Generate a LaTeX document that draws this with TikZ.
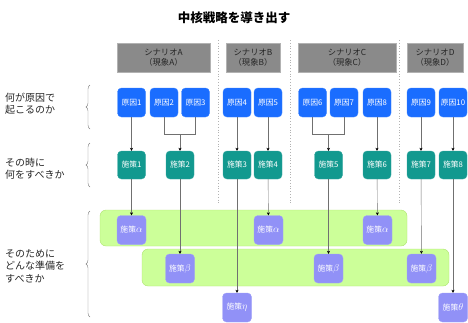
\documentclass[tikz,border=0pt]{standalone}
\usepackage{fontspec}
\setmainfont{Noto Sans CJK JP}
\usepackage{xcolor}
\usetikzlibrary{arrows.meta,decorations.pathreplacing}
\definecolor{causeblue}{HTML}{1A6DFF}
\definecolor{actteal}{HTML}{12998F}
\definecolor{prepviolet}{HTML}{9191F7}
\definecolor{bandgreen}{HTML}{CCFF99}
\definecolor{bandedge}{HTML}{ADE36E}
\definecolor{headgray}{HTML}{8A8A8A}
\definecolor{linegray}{HTML}{707070}
\newcommand{\grk}[1]{{\fontsize{10}{10}\selectfont$#1$}}

\begin{document}
\begin{tikzpicture}[x=1pt, y=-1pt, every node/.style={font=\fontsize{7.8}{9}\selectfont},
    cause/.style={draw=causeblue!85!white, fill=causeblue, text=white, minimum width=28pt, minimum height=29pt, rounded corners=4pt, inner sep=0pt},
    act/.style={draw=actteal!85!white, fill=actteal, text=white, minimum width=28pt, minimum height=28pt, rounded corners=4pt, inner sep=0pt},
    prep/.style={draw=prepviolet!85!white, fill=prepviolet, text=white, minimum width=29pt, minimum height=29pt, rounded corners=4pt, inner sep=0pt},
    band/.style={draw=bandedge, fill=bandgreen, rounded corners=6pt, inner sep=0pt},
    scen/.style={draw=gray!60, fill=headgray, text=black!85, minimum height=29pt, align=center, inner sep=0pt, font=\fontsize{8.3}{10.5}\selectfont},
    rowlabel/.style={anchor=west, align=left, text=black!85, inner sep=0pt, font=\fontsize{10}{12.5}\selectfont},
    link/.style={draw=linegray, -{Stealth[black, length=3pt, width=3pt]}},
    divider/.style={draw=gray!60, dotted, line width=0.8pt},
    rowbrace/.style={draw=gray, decorate, decoration={brace, amplitude=4pt}}]
    \useasboundingbox (0,0) rectangle (468,322);

    % title and scenarios
    \node[font=\fontsize{12.5}{14}\selectfont\bfseries] (title) at (234,18) {中核戦略を導き出す};
    \node[scen, minimum width=93pt] (sA) at (163.5,57.5) {シナリオA\\（現象A）};
    \node[scen, minimum width=54pt] (sB) at (253,57.5) {シナリオB\\（現象B）};
    \node[scen, minimum width=98pt] (sC) at (347,57.5) {シナリオC\\（現象C）};
    \node[scen, minimum width=56pt] (sD) at (435,57.5) {シナリオD\\（現象D）};
    \draw[divider] (218,40) -- (218,205);
    \draw[divider] (290,40) -- (290,205);
    \draw[divider] (399,40) -- (399,205);

    % row labels
    \node[rowlabel] (q1) at (5,103.5) {何が原因で\\起こるのか};
    \node[rowlabel] (q2) at (5,168.5) {その時に\\何をすべきか};
    \node[rowlabel] (q3) at (5,266) {そのために\\どんな準備を\\すべきか};
    \draw[rowbrace] (90,129) -- (90,85);
    \draw[rowbrace] (90,187) -- (90,143);
    \draw[rowbrace] (90,317) -- (90,211);

    % bands behind the preparations
    \node[band, minimum width=307pt, minimum height=36pt] (bandA) at (253.5,228) {};
    \node[band, minimum width=307pt, minimum height=37pt] (bandB) at (295.5,267.5) {};

    % causes
    \node[cause] (c1) at (131.5,102.5) {原因1};
    \node[cause] (c2) at (164,102.5) {原因2};
    \node[cause] (c3) at (195.5,102.5) {原因3};
    \node[cause] (c4) at (237,102.5) {原因4};
    \node[cause] (c5) at (268,102.5) {原因5};
    \node[cause] (c6) at (312.5,102.5) {原因6};
    \node[cause] (c7) at (344,102.5) {原因7};
    \node[cause] (c8) at (377,102.5) {原因8};
    \node[cause] (c9) at (421,102.5) {原因9};
    \node[cause] (c10) at (453,102.5) {原因10};

    % measures
    \node[act] (m1) at (131.5,165) {施策1};
    \node[act] (m2) at (180,165) {施策2};
    \node[act] (m3) at (237,165) {施策3};
    \node[act] (m4) at (268,165) {施策4};
    \node[act] (m5) at (328.5,165) {施策5};
    \node[act] (m6) at (377,165) {施策6};
    \node[act] (m7) at (421,165) {施策7};
    \node[act] (m8) at (453,165) {施策8};

    % preparations
    \node[prep] (pa1) at (131.5,230) {施策\grk{\alpha}};
    \node[prep] (pa2) at (268.5,230) {施策\grk{\alpha}};
    \node[prep] (pa3) at (377.5,230) {施策\grk{\alpha}};
    \node[prep] (pb1) at (180,268.5) {施策\grk{\beta}};
    \node[prep] (pb2) at (328.5,268.5) {施策\grk{\beta}};
    \node[prep] (pb3) at (421.5,268.5) {施策\grk{\beta}};
    \node[prep] (pg) at (237,307.5) {施策\grk{\eta}};
    \node[prep] (pt) at (453,307.5) {施策\grk{\theta}};

    % causes to measures
    \coordinate (j1) at (180,134);
    \coordinate (j2) at (328.5,134);
    \draw[draw=linegray] (c2.south) |- (j1);
    \draw[draw=linegray] (c3.south) |- (j1);
    \draw[draw=linegray] (c6.south) |- (j2);
    \draw[draw=linegray] (c7.south) |- (j2);
    \draw[link] (c1) -- (m1);
    \draw[link] (j1) -- (m2);
    \draw[link] (c4) -- (m3);
    \draw[link] (c5) -- (m4);
    \draw[link] (j2) -- (m5);
    \draw[link] (c8) -- (m6);
    \draw[link] (c9) -- (m7);
    \draw[link] (c10) -- (m8);

    % measures to preparations
    \draw[link] (m1) -- (pa1);
    \draw[link] (m2) -- (pb1);
    \draw[link] (m3) -- (pg);
    \draw[link] (m4) -- (pa2);
    \draw[link] (m5) -- (pb2);
    \draw[link] (m6) -- (pa3);
    \draw[link] (m7) -- (pb3);
    \draw[link] (m8) -- (pt);
\end{tikzpicture}
\end{document}
